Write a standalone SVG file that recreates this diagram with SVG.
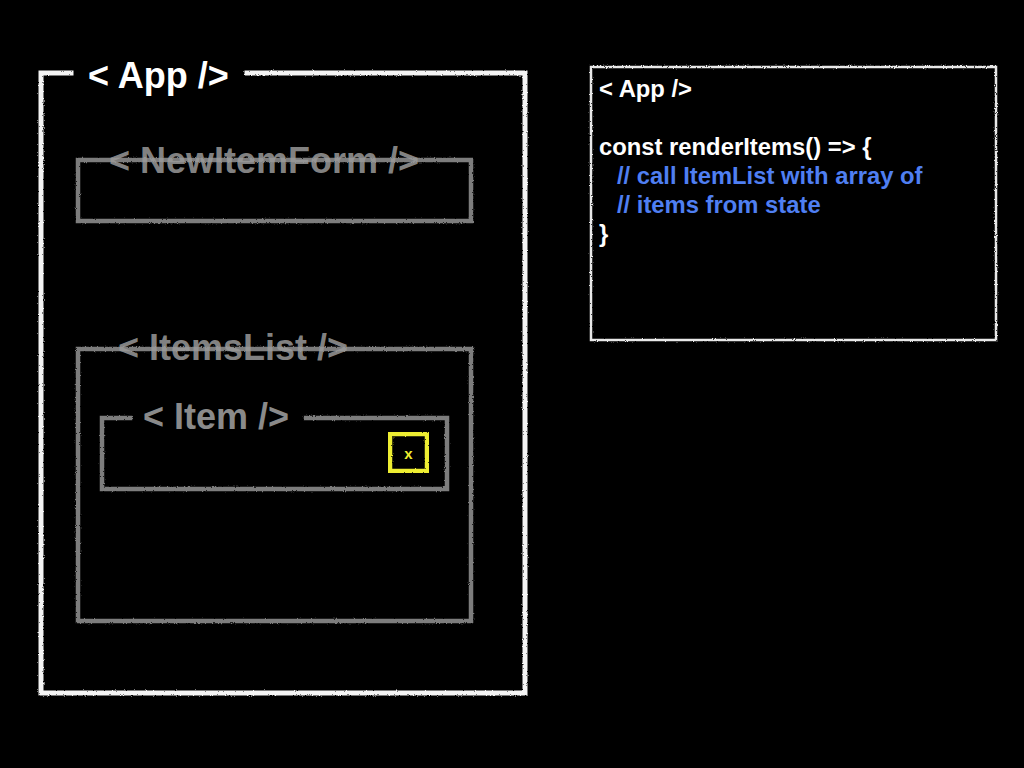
<svg xmlns="http://www.w3.org/2000/svg" width="1024" height="768" viewBox="0 0 1024 768">
<defs>
<filter id="chalk" x="-5%" y="-5%" width="110%" height="110%">
<feTurbulence type="fractalNoise" baseFrequency="0.9" numOctaves="2" seed="3" result="n"/>
<feDisplacementMap in="SourceGraphic" in2="n" scale="2.5" xChannelSelector="R" yChannelSelector="G"/>
</filter>
</defs>
<style>
.lbl{font-family:"Liberation Sans",Arial,sans-serif;font-weight:bold}
.big{font-size:36px}
.code{font-size:23.8px}
.white{fill:#ffffff}
.gray{fill:#8a8a8a}
.grayT{fill:#9a9a9a;fill-opacity:0.85}
.blue{fill:#4f7ff2}
.wline{fill:none;stroke:#f4f4f4;stroke-width:5;stroke-linecap:square}
.gline{fill:none;stroke:#7d7d7d;stroke-width:4.5;stroke-linecap:square}
.yline{fill:none;stroke:#eeee30;stroke-width:4.5}
.thin{fill:none;stroke:#e8e8e8;stroke-width:2.5}
</style>
<rect width="1024" height="768" fill="#000000"/>

<g id="app">
<path class="wline" filter="url(#chalk)" d="M71 73 L41 73 L41 693 L525 693 L525 73 L247 73"/>
<text class="lbl big white" x="88" y="88">&lt; App /&gt;</text>
</g>

<g id="newitemform">
<path class="gline" filter="url(#chalk)" d="M78 160 L471 160 L471 221 L78 221 Z"/>
<text class="lbl big grayT" x="109" y="173">&lt; NewItemForm /&gt;</text>
</g>

<g id="itemslist">
<path class="gline" filter="url(#chalk)" d="M78 349 L471 349 L471 621 L78 621 Z"/>
<text class="lbl big grayT" x="118" y="360">&lt; ItemsList /&gt;</text>
</g>

<g id="item">
<path class="gline" filter="url(#chalk)" d="M130 418 L102 418 L102 489 L447 489 L447 418 L306 418"/>
<text class="lbl big gray" x="143" y="429">&lt; Item /&gt;</text>
</g>

<g id="delete-button">
<rect class="yline" filter="url(#chalk)" x="390" y="434" width="37" height="37"/>
<text class="lbl" x="408.5" y="459" font-size="15" fill="#eeee30" text-anchor="middle">x</text>
</g>

<g id="code-panel">
<rect class="thin" filter="url(#chalk)" x="591" y="67" width="405" height="273"/>
<text class="lbl code white" x="599" y="97">&lt; App /&gt;</text>
<text class="lbl code white" x="599" y="155">const renderItems() =&gt; {</text>
<text class="lbl code blue" x="617" y="184">// call ItemList with array of</text>
<text class="lbl code blue" x="617" y="213">// items from state</text>
<text class="lbl code white" x="599" y="242">}</text>
</g>

<g id="connectors"></g>
</svg>
